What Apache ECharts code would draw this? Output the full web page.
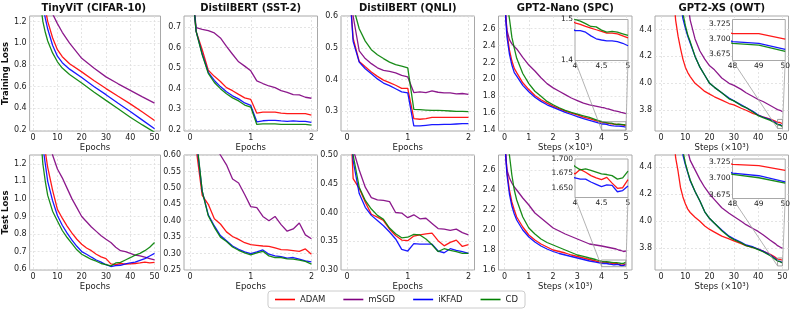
<!DOCTYPE html>
<html><head><meta charset="utf-8">
<script src="https://cdn.jsdelivr.net/npm/echarts@6/dist/echarts.min.js"></script>
<style>html,body{margin:0;padding:0;background:#fff}#c{width:793px;height:312px}</style>
</head><body><div id="c"></div>
<script>
// ---------------- DATA ----------------
const methods = ['ADAM','mSGD','iKFAD','CD'];
const titles = ['TinyViT (CIFAR-10)','DistilBERT (SST-2)','DistilBERT (QNLI)','GPT2-Nano (SPC)','GPT2-XS (OWT)'];
const rowNames = ['Training Loss','Test Loss'];
const xNames = ['Epochs','Epochs','Epochs','Steps (×10³)','Steps (×10³)'];

// TinyViT (CIFAR-10)
const vitTrainX = [1,2,3,4,5,6,8,10,12,15,20,25,30,35,40,45,50];
const vitTrainAdam  = [2.5,1.95,1.65,1.45,1.32,1.2,1.05,0.94,0.875,0.81,0.735,0.655,0.581,0.51,0.44,0.365,0.286];
const vitTrainMsgd  = [3.0,2.5,2.15,1.9,1.7,1.55,1.27,1.18,1.1,1.0,0.86,0.77,0.689,0.625,0.565,0.505,0.447];
const vitTrainIkfad = [2.4,1.85,1.55,1.35,1.23,1.13,0.98,0.88,0.82,0.76,0.683,0.6,0.525,0.445,0.37,0.29,0.21];
const vitTrainCd    = [2.2,1.7,1.38,1.2,1.1,1.02,0.91,0.828,0.77,0.71,0.633,0.55,0.472,0.395,0.317,0.246,0.178];
const vitTestX = [1,2,3,4,5,6,8,10,12,14,16,18,20,22,24,26,28,30,32,34,36,38,40,42,44,46,48,50];
const vitTestAdam  = [2.6,2.0,1.65,1.42,1.27,1.18,1.05,0.94,0.89,0.845,0.805,0.77,0.742,0.72,0.705,0.685,0.67,0.66,0.63,0.625,0.632,0.628,0.63,0.632,0.635,0.64,0.635,0.638];
const vitTestMsgd  = [2.8,2.3,1.95,1.7,1.5,1.4,1.25,1.17,1.12,1.06,1.0,0.95,0.9,0.87,0.84,0.815,0.79,0.77,0.752,0.725,0.705,0.70,0.69,0.68,0.675,0.668,0.66,0.652];
const vitTestIkfad = [2.4,1.85,1.55,1.3,1.2,1.1,0.99,0.905,0.85,0.805,0.765,0.73,0.70,0.685,0.668,0.652,0.64,0.625,0.615,0.62,0.622,0.63,0.635,0.64,0.65,0.66,0.675,0.69];
const vitTestCd    = [2.2,1.7,1.38,1.2,1.1,1.02,0.93,0.874,0.82,0.78,0.745,0.71,0.685,0.67,0.655,0.645,0.632,0.625,0.618,0.635,0.638,0.652,0.665,0.68,0.69,0.705,0.725,0.752];

// DistilBERT epochs
const bertX = [0,0.1,0.2,0.3,0.4,0.5,0.6,0.7,0.8,0.9,1.0,1.1,1.2,1.3,1.4,1.5,1.6,1.7,1.8,1.9,2.0];
const sstTrainAdam  = [1.0,0.68,0.59,0.49,0.46,0.435,0.405,0.39,0.372,0.355,0.347,0.28,0.285,0.285,0.285,0.28,0.278,0.278,0.278,0.278,0.27];
const sstTrainMsgd  = [1.0,0.698,0.69,0.683,0.672,0.648,0.607,0.568,0.531,0.51,0.487,0.438,0.425,0.413,0.405,0.39,0.382,0.371,0.37,0.358,0.353];
const sstTrainIkfad = [1.0,0.68,0.57,0.48,0.44,0.41,0.385,0.365,0.35,0.33,0.318,0.238,0.243,0.245,0.245,0.242,0.24,0.242,0.24,0.24,0.235];
const sstTrainCd    = [1.0,0.68,0.565,0.475,0.43,0.40,0.375,0.355,0.34,0.32,0.31,0.225,0.228,0.228,0.228,0.225,0.225,0.225,0.225,0.225,0.222];
const sstTestAdam  = [0.9,0.62,0.477,0.45,0.406,0.39,0.366,0.352,0.343,0.333,0.327,0.325,0.323,0.322,0.317,0.312,0.311,0.309,0.307,0.314,0.298];
const sstTestMsgd  = [0.9,0.8,0.72,0.67,0.63,0.6,0.57,0.527,0.515,0.48,0.443,0.44,0.413,0.40,0.413,0.388,0.368,0.375,0.393,0.357,0.345];
const sstTestIkfad = [0.9,0.65,0.49,0.418,0.384,0.355,0.339,0.323,0.313,0.305,0.30,0.305,0.311,0.298,0.293,0.291,0.286,0.288,0.283,0.278,0.275];
const sstTestCd    = [0.9,0.66,0.49,0.415,0.38,0.35,0.337,0.32,0.31,0.302,0.296,0.302,0.307,0.293,0.288,0.288,0.284,0.283,0.28,0.276,0.268];
const qnliTrainAdam  = [0.8,0.53,0.457,0.44,0.424,0.41,0.398,0.39,0.382,0.372,0.372,0.277,0.275,0.277,0.281,0.281,0.281,0.281,0.281,0.281,0.281];
const qnliTrainMsgd  = [0.8,0.6,0.49,0.466,0.45,0.437,0.429,0.426,0.421,0.413,0.408,0.359,0.361,0.359,0.364,0.36,0.358,0.358,0.355,0.356,0.353];
const qnliTrainIkfad = [0.8,0.52,0.455,0.434,0.418,0.402,0.389,0.381,0.371,0.361,0.358,0.254,0.254,0.256,0.258,0.258,0.259,0.259,0.26,0.261,0.261];
const qnliTrainCd    = [0.8,0.63,0.56,0.521,0.494,0.478,0.466,0.455,0.447,0.442,0.437,0.306,0.305,0.304,0.303,0.303,0.302,0.301,0.3,0.3,0.299];
const qnliTestAdam  = [0.7,0.459,0.442,0.418,0.397,0.392,0.386,0.371,0.36,0.352,0.351,0.359,0.361,0.363,0.364,0.351,0.342,0.348,0.352,0.341,0.344];
const qnliTestMsgd  = [0.7,0.51,0.474,0.444,0.426,0.422,0.421,0.419,0.40,0.399,0.391,0.396,0.389,0.39,0.381,0.372,0.371,0.369,0.371,0.365,0.361];
const qnliTestIkfad = [0.7,0.49,0.433,0.409,0.395,0.386,0.377,0.366,0.354,0.336,0.333,0.346,0.345,0.345,0.345,0.333,0.330,0.337,0.334,0.332,0.329];
const qnliTestCd    = [0.7,0.50,0.444,0.421,0.406,0.395,0.388,0.373,0.363,0.356,0.357,0.362,0.361,0.354,0.344,0.332,0.337,0.334,0.332,0.329,0.329];

// GPT2-Nano (SPC), steps x10^3
const spcX = [0,0.05,0.1,0.2,0.3,0.4,0.5,0.75,1,1.25,1.5,1.75,2,2.25,2.5,2.75,3,3.25,3.5,3.75,4,4.1,4.2,4.3,4.4,4.5,4.6,4.7,4.8,4.9,5];
const spcTrainAdam  = [3.2,2.75,2.55,2.35,2.22,2.13,2.08,1.96,1.88,1.81,1.76,1.72,1.685,1.655,1.625,1.60,1.58,1.555,1.535,1.512,1.492,1.488,1.483,1.479,1.475,1.471,1.467,1.467,1.465,1.46,1.455];
const spcTrainMsgd  = [3.2,2.75,2.58,2.47,2.42,2.39,2.36,2.26,2.17,2.1,2.02,1.95,1.9,1.86,1.82,1.78,1.75,1.72,1.7,1.685,1.67,1.665,1.655,1.65,1.64,1.63,1.625,1.618,1.61,1.605,1.595];
const spcTrainIkfad = [3.2,2.7,2.5,2.3,2.17,2.08,2.04,1.93,1.855,1.79,1.74,1.70,1.67,1.64,1.61,1.585,1.56,1.537,1.515,1.495,1.473,1.473,1.469,1.46,1.453,1.45,1.448,1.448,1.446,1.442,1.436];
const spcTrainCd    = [3.4,3.1,2.9,2.72,2.5,2.37,2.25,2.07,1.95,1.86,1.8,1.74,1.7,1.665,1.635,1.61,1.59,1.57,1.55,1.525,1.50,1.496,1.49,1.483,1.482,1.474,1.469,1.471,1.469,1.465,1.461];
const spcTestAdam  = [3.2,2.75,2.58,2.4,2.28,2.2,2.13,2.03,1.95,1.9,1.86,1.83,1.80,1.785,1.77,1.75,1.735,1.72,1.705,1.69,1.674,1.682,1.677,1.671,1.667,1.664,1.668,1.658,1.649,1.65,1.664];
const spcTestMsgd  = [3.2,2.75,2.6,2.52,2.47,2.43,2.40,2.32,2.25,2.17,2.12,2.07,2.02,1.99,1.96,1.935,1.91,1.885,1.86,1.85,1.84,1.835,1.83,1.825,1.82,1.815,1.81,1.80,1.795,1.785,1.79];
const spcTestIkfad = [3.2,2.72,2.55,2.36,2.24,2.16,2.1,2.0,1.93,1.88,1.84,1.81,1.785,1.765,1.75,1.735,1.72,1.705,1.69,1.678,1.667,1.665,1.665,1.66,1.656,1.652,1.655,1.654,1.643,1.645,1.653];
const spcTestCd    = [3.4,3.1,2.95,2.75,2.55,2.4,2.3,2.13,2.02,1.96,1.91,1.875,1.85,1.825,1.80,1.775,1.75,1.737,1.72,1.705,1.687,1.681,1.683,1.68,1.677,1.674,1.673,1.671,1.665,1.667,1.679];

// GPT2-XS (OWT), steps x10^3
const owtX = [0,2,4,5,6,7,8,9,10,11,12,14,16,18,20,22,25,28,30,33,35,38,40,42,45,47,48,49,50];
const owtTrainAdam  = [7,6,5.0,4.7,4.47,4.35,4.26,4.18,4.12,4.08,4.05,4.0,3.97,3.94,3.92,3.9,3.875,3.85,3.84,3.815,3.8,3.775,3.765,3.75,3.735,3.72,3.709,3.709,3.70];
const owtTrainMsgd  = [9,8,7,6.5,6,5.6,5.2,4.95,4.75,4.6,4.47,4.33,4.24,4.18,4.13,4.1,4.04,4.0,3.985,3.955,3.93,3.9,3.88,3.865,3.835,3.815,3.805,3.80,3.79];
const owtTrainIkfad = [8,7,6,5.5,5.1,4.8,4.6,4.48,4.41,4.35,4.3,4.2,4.12,4.06,4.0,3.97,3.93,3.89,3.87,3.84,3.82,3.79,3.765,3.75,3.73,3.71,3.696,3.693,3.683];
const owtTrainCd    = [8,7,6,5.55,5.15,4.85,4.65,4.52,4.43,4.36,4.31,4.2,4.12,4.06,4.0,3.97,3.93,3.885,3.87,3.835,3.82,3.785,3.76,3.745,3.725,3.705,3.693,3.69,3.68];
const owtTestAdam  = [7,6,5.0,4.7,4.47,4.37,4.25,4.18,4.13,4.09,4.065,4.03,4.0,3.965,3.94,3.92,3.89,3.87,3.855,3.835,3.82,3.805,3.795,3.78,3.755,3.735,3.721,3.719,3.712];
const owtTestMsgd  = [9,8,7,6.5,6,5.6,5.2,4.95,4.65,4.52,4.45,4.38,4.31,4.25,4.2,4.16,4.1,4.06,4.035,4.0,3.975,3.945,3.925,3.9,3.86,3.835,3.82,3.81,3.80];
const owtTestIkfad = [8,7,6,5.5,5.1,4.8,4.6,4.49,4.42,4.36,4.3,4.22,4.15,4.07,4.02,3.985,3.935,3.89,3.87,3.845,3.825,3.81,3.795,3.78,3.75,3.725,3.708,3.704,3.695];
const owtTestCd    = [8,7,6,5.55,5.15,4.85,4.65,4.52,4.43,4.365,4.305,4.22,4.15,4.07,4.02,3.985,3.93,3.885,3.865,3.84,3.82,3.805,3.79,3.775,3.745,3.72,3.706,3.701,3.693];

// tick labels
const ticks0to50 = [0,10,20,30,40,50];
const ticks0to2 = [0,1,2];
const ticks0to5 = [0,1,2,3,4,5];
const vitTrainYTicks = [0.2,0.4,0.6,0.8,1.0,1.2];
const sstTrainYTicks = [0.2,0.3,0.4,0.5,0.6,0.7];
const qnliTrainYTicks = [0.3,0.4,0.5,0.6];
const spcTrainYTicks = [1.4,1.6,1.8,2.0,2.2,2.4,2.6];
const owtYTicks = [3.8,4.0,4.2,4.4];
const vitTestYTicks = [0.6,0.7,0.8,0.9,1.0,1.1,1.2];
const sstTestYTicks = [0.25,0.30,0.35,0.40,0.45,0.50,0.55,0.60];
const qnliTestYTicks = [0.30,0.35,0.40,0.45,0.50];
const spcTestYTicks = [1.6,1.8,2.0,2.2,2.4,2.6];
const spcInsetXTicks = [4,4.5,5];
const owtInsetXTicks = [48,49,50];
const spcTrainInsetYTicks = [1.4,1.5];
const spcTestInsetYTicks = [1.650,1.675,1.700];
const owtInsetYTicks = [3.675,3.700,3.725];

// ---------------- LAYOUT ----------------
const FONT = 'DejaVu Sans';
const colors = ['#ff0000','#800080','#0000ff','#008000'];
const colLeft = [27,184,341,498.5,655], colW = 133.5, rowTop = [16,155], rowH = 115;

const panels = [
 {x:vitTrainX, ys:[vitTrainAdam,vitTrainMsgd,vitTrainIkfad,vitTrainCd], xr:[-1.45,52.45], yr:[0.19,1.25], xt:ticks0to50, yt:vitTrainYTicks, yd:1},
 {x:bertX, ys:[sstTrainAdam,sstTrainMsgd,sstTrainIkfad,sstTrainCd], xr:[-0.1,2.1], yr:[0.193,0.755], xt:ticks0to2, yt:sstTrainYTicks, yd:1},
 {x:bertX, ys:[qnliTrainAdam,qnliTrainMsgd,qnliTrainIkfad,qnliTrainCd], xr:[-0.1,2.1], yr:[0.238,0.6], xt:ticks0to2, yt:qnliTrainYTicks, yd:1},
 {x:spcX, ys:[spcTrainAdam,spcTrainMsgd,spcTrainIkfad,spcTrainCd], xr:[-0.25,5.25], yr:[1.39,2.75], xt:ticks0to5, yt:spcTrainYTicks, yd:1},
 {x:owtX, ys:[owtTrainAdam,owtTrainMsgd,owtTrainIkfad,owtTrainCd], xr:[-2.5,52.5], yr:[3.646,4.5], xt:ticks0to50, yt:owtYTicks, yd:1},
 {x:vitTestX, ys:[vitTestAdam,vitTestMsgd,vitTestIkfad,vitTestCd], xr:[-1.45,52.45], yr:[0.595,1.25], xt:ticks0to50, yt:vitTestYTicks, yd:1},
 {x:bertX, ys:[sstTestAdam,sstTestMsgd,sstTestIkfad,sstTestCd], xr:[-0.1,2.1], yr:[0.25,0.6], xt:ticks0to2, yt:sstTestYTicks, yd:2},
 {x:bertX, ys:[qnliTestAdam,qnliTestMsgd,qnliTestIkfad,qnliTestCd], xr:[-0.1,2.1], yr:[0.3,0.5], xt:ticks0to2, yt:qnliTestYTicks, yd:2},
 {x:spcX, ys:[spcTestAdam,spcTestMsgd,spcTestIkfad,spcTestCd], xr:[-0.25,5.25], yr:[1.6,2.75], xt:ticks0to5, yt:spcTestYTicks, yd:1},
 {x:owtX, ys:[owtTestAdam,owtTestMsgd,owtTestIkfad,owtTestCd], xr:[-2.5,52.5], yr:[3.64,4.49], xt:ticks0to50, yt:owtYTicks, yd:1}
];
const insets = [
 {main:3, xr:[4,5], yr:[1.4,1.5], xt:spcInsetXTicks, yt:spcTrainInsetYTicks, yd:1, dx:76.5, dy:3.5, w:53, h:41},
 {main:4, xr:[48,50], yr:[3.665,3.732], xt:owtInsetXTicks, yt:owtInsetYTicks, yd:3, dx:77.5, dy:3.5, w:53, h:41},
 {main:8, xr:[4,5], yr:[1.633,1.70], xt:spcInsetXTicks, yt:spcTestInsetYTicks, yd:3, dx:76.5, dy:4, w:53, h:38.5},
 {main:9, xr:[48,50], yr:[3.670,3.729], xt:owtInsetXTicks, yt:owtInsetYTicks, yd:3, dx:77.5, dy:4, w:53, h:39.5}
];

const grids = [], xAxes = [], yAxes = [], series = [];
const splitStyle = {color:'#dedede', type:[2,2], width:0.8};

function addAxes(gi, p, inset, name, yname){
  xAxes.push({type:'value', gridIndex:gi, min:p.xr[0], max:p.xr[1], z: inset?6:0,
    axisLine:{show:false}, axisTick:{show:false, customValues:p.xt},
    axisLabel:{customValues:p.xt, fontSize: inset?7.5:8, color:'#222', margin: inset?2:3, fontFamily:FONT,
      formatter: v => String(+(+v).toFixed(3))},
    splitLine:{show:!inset, lineStyle:splitStyle},
    name: name||'', nameLocation:'middle', nameGap: 11,
    nameTextStyle:{fontSize:8.5, color:'#222', fontFamily:FONT}});
  yAxes.push({type:'value', gridIndex:gi, min:p.yr[0], max:p.yr[1], z: inset?6:0,
    axisLine:{show:false}, axisTick:{show:false, customValues:p.yt},
    axisLabel:{customValues:p.yt, fontSize: inset?7.5:8, color:'#222', margin: inset?2:3, fontFamily:FONT,
      formatter: v => (+v).toFixed(p.yd)},
    splitLine:{show:!inset, lineStyle:splitStyle},
    name: yname||'', nameLocation:'middle', nameGap: 17,
    nameTextStyle:{fontSize:8.5, fontWeight:'bold', color:'#111', fontFamily:FONT}});
}
function addSeries(gi, p, z){
  p.ys.forEach((ys,k)=>{
    series.push({name:methods[k], type:'line', xAxisIndex:gi, yAxisIndex:gi,
      data:p.x.map((x,j)=>[x,ys[j]]), showSymbol:false, symbol:'none', clip:true, silent:true,
      lineStyle:{width:1.3, color:colors[k], opacity:0.9}, itemStyle:{color:colors[k]}, z:z});
  });
}

panels.forEach((p,i)=>{
  const r = Math.floor(i/5), c = i%5;
  grids.push({left:colLeft[c], top:rowTop[r], width:colW, height:rowH, show:true,
    borderColor:'#a8a8a8', borderWidth:1, backgroundColor:'#fff', z:0});
  addAxes(i, p, false, xNames[c], c===0 ? rowNames[r] : '');
  addSeries(i, p, 2);
});
insets.forEach((ins,j)=>{
  const gi = 10 + j, m = ins.main, r = Math.floor(m/5), c = m%5;
  ins.gi = gi;
  ins.x = panels[m].x; ins.ys = panels[m].ys;
  grids.push({left:colLeft[c]+ins.dx, top:rowTop[r]+ins.dy, width:ins.w, height:ins.h, show:true,
    borderColor:'#a8a8a8', borderWidth:1, backgroundColor:'#fff', z:5});
  addAxes(gi, ins, true, '', '');
  addSeries(gi, ins, 7);
});

const chart = echarts.init(document.getElementById('c'), null, {renderer:'canvas'});
chart.setOption({
  animation:false,
  textStyle:{fontFamily:FONT},
  grid:grids, xAxis:xAxes, yAxis:yAxes, series:series,
  legend:{data:methods.map(n=>({name:n, icon:'rect'})), top:291, left:'center', itemWidth:20, itemHeight:1.6, itemGap:18,
    textStyle:{fontSize:8.5, color:'#222', fontFamily:FONT},
    borderColor:'#cccccc', borderWidth:1, borderRadius:3, padding:[4,7]}
});

const gfx = [];
titles.forEach((t,c)=>{
  gfx.push({type:'text', x:colLeft[c]+colW/2, y:8, z:20,
    style:{text:t, fill:'#111', fontSize:10, fontWeight:'bold', fontFamily:FONT, align:'center', verticalAlign:'middle'}});
});
insets.forEach(ins=>{
  const tl = chart.convertToPixel({gridIndex:ins.main}, [ins.xr[0], ins.yr[1]]);
  const br = chart.convertToPixel({gridIndex:ins.main}, [ins.xr[1], ins.yr[0]]);
  const ibl = chart.convertToPixel({gridIndex:ins.gi}, [ins.xr[0], ins.yr[0]]);
  const ibr = chart.convertToPixel({gridIndex:ins.gi}, [ins.xr[1], ins.yr[0]]);
  gfx.push({type:'rect', z:20, shape:{x:tl[0], y:tl[1], width:br[0]-tl[0], height:br[1]-tl[1]},
    style:{fill:'none', stroke:'#8a8a8a', lineWidth:0.8}});
  gfx.push({type:'line', z:20, shape:{x1:ibl[0], y1:ibl[1], x2:tl[0], y2:br[1]}, style:{stroke:'#a0a0a0', lineWidth:0.8}});
  gfx.push({type:'line', z:20, shape:{x1:ibr[0], y1:ibr[1], x2:br[0], y2:br[1]}, style:{stroke:'#a0a0a0', lineWidth:0.8}});
});
chart.setOption({graphic:gfx});
</script>
</body></html>
